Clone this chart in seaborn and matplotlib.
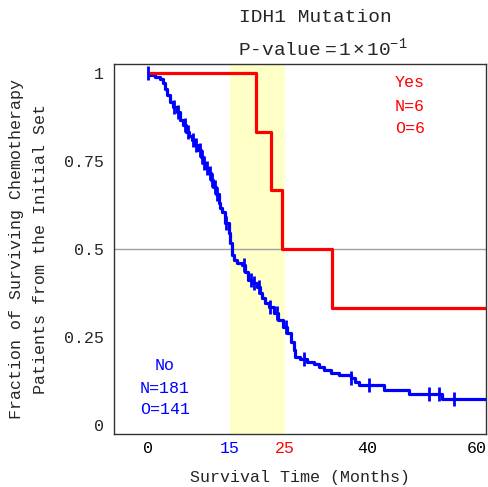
import numpy as np
import pandas as pd
import matplotlib
matplotlib.use("Agg")
import matplotlib.pyplot as plt
import seaborn as sns

# ---- data ----
blue_t = [0, 0.4, 1.3, 2.2, 2.8, 3.1, 3.4, 4.0, 4.6, 5.2, 5.8, 6.4, 7.0, 7.5, 8.0, 8.6, 9.2, 9.6,
          10.1, 10.5, 11.0, 11.5, 11.9, 12.4, 12.9, 13.2, 13.5, 14.1, 14.7, 15.0, 15.3, 15.6, 16.2,
          17.1, 17.7, 18.3, 19.1, 19.9, 20.4, 20.8, 21.4, 22.0, 22.9, 23.8, 24.7, 25.4, 26.0, 26.6,
          26.9, 27.8, 29.0, 30.2, 31.1, 32.1, 33.3, 34.8, 37.0, 37.8, 38.5, 43.0, 47.6, 53.7, 61.7]
blue_s = [1.0, 0.995, 0.99, 0.983, 0.972, 0.955, 0.937, 0.918, 0.904, 0.89, 0.866, 0.852, 0.833,
          0.822, 0.81, 0.795, 0.781, 0.762, 0.743, 0.73, 0.715, 0.695, 0.677, 0.655, 0.63, 0.616,
          0.605, 0.573, 0.545, 0.516, 0.483, 0.469, 0.459, 0.455, 0.436, 0.412, 0.402, 0.393, 0.375,
          0.36, 0.348, 0.336, 0.317, 0.298, 0.279, 0.26, 0.237, 0.213, 0.194, 0.187, 0.18, 0.172,
          0.166, 0.156, 0.149, 0.142, 0.133, 0.123, 0.114, 0.099, 0.087, 0.073, 0.073]
blue_censor_t = [0, 4.8, 5.5, 6.7, 7.3, 8.3, 8.8, 9.4, 9.8, 10.3, 10.8, 11.3, 11.7, 12.2, 12.6,
                 14.3, 17.5, 18.8, 19.3, 20.2, 22.3, 23.5, 25.2, 28.4, 37.0, 40.3, 51.2, 53.1,
                 55.8]

red_t = [0, 19.7, 22.5, 24.5, 33.6, 61.7]
red_s = [1.0, 0.833, 0.667, 0.5, 0.333, 0.333]

xticks = [0, 15, 25, 40, 60]
xtick_colors = ["black", "blue", "red", "black", "black"]
yticks = [0, 0.25, 0.5, 0.75, 1]
ytick_labels = ["0", "0.25", "0.5", "0.75", "1"]

FONT = "Liberation Mono"

sns.set_theme(style="white")
plt.rcParams["font.family"] = [FONT, "DejaVu Sans"]
plt.rcParams["mathtext.fontset"] = "custom"
plt.rcParams["mathtext.rm"] = FONT
plt.rcParams["mathtext.it"] = FONT

fig = plt.figure(figsize=(4.88, 4.87), dpi=100)
ax = fig.add_axes([114 / 488, 1 - 434 / 487, 372 / 488, 370 / 487])

ax.axvspan(15, 25, color="#ffffc8", zorder=0, lw=0)
ax.axhline(0.5, color="#a0a0a0", lw=1, zorder=1)

blue_df = pd.DataFrame({"t": blue_t, "s": blue_s})
red_df = pd.DataFrame({"t": red_t, "s": red_s})
sns.lineplot(data=blue_df, x="t", y="s", drawstyle="steps-post", color="#0000ff", lw=2.3,
             ax=ax, zorder=3, sort=False)
sns.lineplot(data=red_df, x="t", y="s", drawstyle="steps-post", color="#ff0000", lw=2.3,
             ax=ax, zorder=4, sort=False)

idx = np.searchsorted(np.array(blue_t), np.array(blue_censor_t), side="right") - 1
cens_df = pd.DataFrame({"t": blue_censor_t, "s": np.array(blue_s)[idx]})
sns.scatterplot(data=cens_df, x="t", y="s", marker="|", s=110, color="#0000ff",
                linewidth=2, ax=ax, zorder=5)

ax.set_xlim(-6.2, 61.65)
ax.set_ylim(-0.0256, 1.0256)
ax.set_xticks(xticks)
ax.set_xticklabels([str(v) for v in xticks], fontsize=12)
for lab, c in zip(ax.get_xticklabels(), xtick_colors):
    lab.set_color(c)
ax.set_yticks(yticks)
ax.set_yticklabels(ytick_labels, fontsize=12)
ax.tick_params(axis="x", direction="in", length=4, width=1, color="#333333", pad=5)
ax.tick_params(axis="y", direction="out", length=4, width=1, color="#333333", pad=3)
for sp in ax.spines.values():
    sp.set_color("#333333")
    sp.set_linewidth(1)
    sp.set_visible(True)

ax.set_xlabel("Survival Time (Months)", fontsize=12, labelpad=10)
ax.set_ylabel("Fraction of Surviving Chemotherapy\nPatients from the Initial Set",
              fontsize=12, labelpad=12, linespacing=1.75)

for txt, y in zip(["Yes", "N=6", "O=6"], [0.972, 0.906, 0.841]):
    ax.text(47.8, y, txt, color="#ff0000", fontsize=12, ha="center", va="center")
for txt, y in zip(["No", "N=181", "O=141"], [0.168, 0.105, 0.043]):
    ax.text(3.1, y, txt, color="#0000ff", fontsize=12, ha="center", va="center")

fig.text(315 / 488, 1 - 18 / 487, "IDH1 Mutation", fontsize=14, ha="center", va="center")
fig.text(323 / 488, 1 - 48 / 487, r"P-value$\,=1\times10^{-1}$", fontsize=14,
         ha="center", va="center")

fig.savefig("out.png", dpi=100)
